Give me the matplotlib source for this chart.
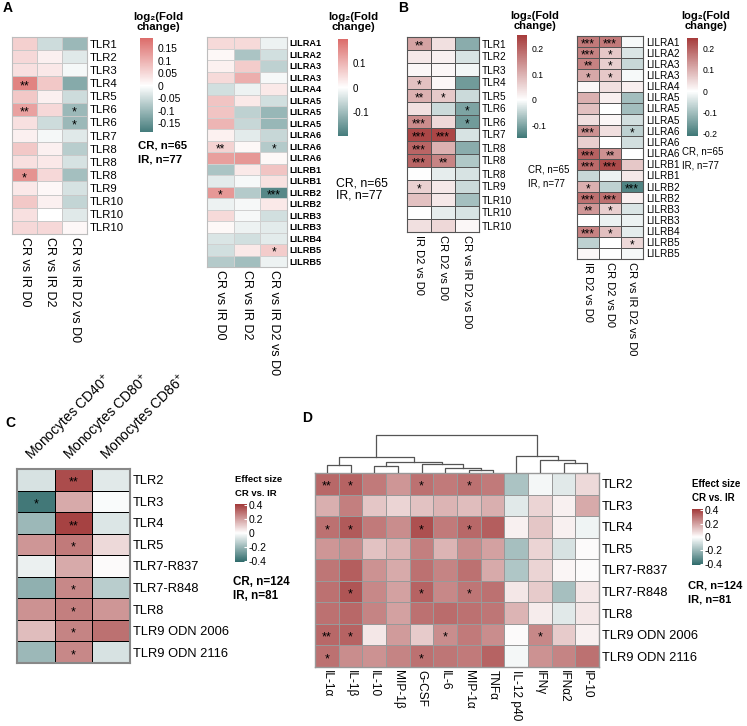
import numpy as np
import matplotlib
matplotlib.use('Agg')
import matplotlib.pyplot as plt
from matplotlib.colors import LinearSegmentedColormap, Normalize
from matplotlib.cm import ScalarMappable

plt.rcParams['font.family'] = ['Liberation Sans', 'DejaVu Sans']
plt.rcParams['mathtext.default'] = 'regular'

W, H = 747, 726

# ---------------- data ----------------
cols_a = ['CR vs IR D0', 'CR vs IR D2', 'CR vs IR D2 vs D0']
cols_b = ['IR D2 vs D0', 'CR D2 vs D0', 'CR vs IR D2 vs D0']

tlr_rows = ['TLR1', 'TLR2', 'TLR3', 'TLR4', 'TLR5', 'TLR6', 'TLR6', 'TLR7',
            'TLR8', 'TLR8', 'TLR8', 'TLR9', 'TLR10', 'TLR10', 'TLR10']
lilr_rows = ['LILRA1', 'LILRA2', 'LILRA3', 'LILRA3', 'LILRA4', 'LILRA5', 'LILRA5',
             'LILRA5', 'LILRA6', 'LILRA6', 'LILRA6', 'LILRB1', 'LILRB1', 'LILRB2',
             'LILRB2', 'LILRB3', 'LILRB3', 'LILRB4', 'LILRB5', 'LILRB5']

a_tlr = [[0.06, -0.05, -0.10], [0.05, 0.02, -0.03], [0.04, 0.03, -0.01],
         [0.16, 0.07, -0.12], [0.07, 0.02, -0.05], [0.12, 0.05, -0.10],
         [0.04, -0.05, -0.10], [0.02, -0.01, -0.03], [0.07, 0.02, -0.07],
         [0.04, 0.03, -0.04], [0.14, 0.05, -0.09], [0.03, 0.01, -0.04],
         [0.07, 0.02, -0.06], [0.04, 0.00, -0.03], [0.05, 0.05, 0.01]]
a_tlr_sig = [(3, 0, '**'), (5, 0, '**'), (5, 2, '*'), (6, 2, '*'), (10, 0, '*')]

a_lilr = [[0.05, 0.05, -0.02], [0.01, -0.09, -0.05], [0.02, 0.07, -0.07],
          [0.05, 0.11, -0.01], [-0.05, -0.02, 0.03], [0.08, 0.03, -0.05],
          [0.08, -0.07, -0.11], [0.10, -0.06, -0.11], [0.02, -0.03, -0.06],
          [0.06, 0.01, -0.08], [0.13, 0.14, 0.01], [-0.09, 0.03, 0.08],
          [-0.03, -0.01, 0.04], [0.14, -0.08, -0.18], [-0.02, -0.01, 0.03],
          [0.05, -0.01, -0.05], [0.01, -0.02, -0.03], [-0.04, -0.05, -0.03],
          [-0.05, 0.03, 0.07], [-0.08, -0.10, -0.02]]
a_lilr_sig = [(9, 0, '**'), (9, 2, '*'), (13, 0, '*'), (13, 2, '***'), (18, 2, '*')]

b_tlr = [[0.12, 0.04, -0.09], [0.03, 0.02, -0.03], [0.01, 0.01, -0.01],
         [0.08, 0.01, -0.11], [0.10, 0.07, -0.04], [0.04, -0.04, -0.10],
         [0.15, 0.05, -0.11], [0.24, 0.24, -0.03], [0.20, 0.10, -0.09],
         [0.20, 0.16, -0.06], [0.00, -0.02, -0.03], [0.06, 0.03, -0.04],
         [0.08, 0.03, -0.07], [0.00, -0.02, -0.03], [0.04, 0.05, 0.01]]
b_tlr_sig = [(0, 0, '**'), (3, 0, '*'), (4, 0, '**'), (4, 1, '*'), (5, 2, '*'),
             (6, 0, '***'), (6, 2, '*'), (7, 0, '***'), (7, 1, '***'), (8, 0, '***'),
             (9, 0, '***'), (9, 1, '**'), (11, 0, '*')]

b_lilr = [[0.17, 0.17, -0.01], [0.16, 0.07, -0.04], [0.16, 0.06, -0.06],
          [0.11, 0.07, -0.01], [0.01, 0.04, 0.02], [0.10, 0.02, -0.10],
          [0.08, 0.00, -0.10], [0.04, 0.01, -0.05], [0.14, 0.04, -0.07],
          [0.06, 0.00, -0.05], [0.20, 0.14, 0.00], [0.19, 0.23, 0.07],
          [-0.06, -0.02, 0.03], [0.10, -0.07, -0.19], [0.18, 0.18, 0.02],
          [0.13, 0.06, -0.04], [0.00, -0.02, -0.02], [0.16, 0.08, -0.03],
          [-0.07, 0.00, 0.05], [0.01, 0.00, -0.01]]
b_lilr_sig = [(0, 0, '***'), (0, 1, '***'), (1, 0, '***'), (1, 1, '*'), (2, 0, '**'),
              (2, 1, '*'), (3, 0, '*'), (3, 1, '*'), (8, 0, '***'), (8, 2, '*'),
              (10, 0, '***'), (10, 1, '**'), (11, 0, '***'), (11, 1, '***'),
              (13, 0, '*'), (13, 2, '***'), (14, 0, '***'), (14, 1, '***'),
              (15, 0, '**'), (15, 1, '*'), (17, 0, '***'), (17, 1, '*'), (18, 2, '*')]

stim_rows = ['TLR2', 'TLR3', 'TLR4', 'TLR5', 'TLR7-R837', 'TLR7-R848', 'TLR8',
             'TLR9 ODN 2006', 'TLR9 ODN 2116']
mono_cols = ['Monocytes CD40$^{+}$', 'Monocytes CD80$^{+}$', 'Monocytes CD86$^{+}$']
c_vals = [[-0.08, 0.38, -0.06], [-0.38, 0.18, -0.01], [-0.20, 0.40, -0.07],
          [0.22, 0.28, 0.08], [-0.04, 0.18, 0.01], [-0.22, 0.25, -0.14],
          [0.23, 0.27, 0.22], [0.14, 0.26, 0.30], [-0.20, 0.25, -0.08]]
c_sig = [(0, 1, '**'), (1, 0, '*'), (2, 1, '**'), (3, 1, '*'), (5, 1, '*'),
         (6, 1, '*'), (7, 1, '*'), (8, 1, '*')]

cyto_cols = ['IL-1α', 'IL-1β', 'IL-10', 'MIP-1β', 'G-CSF', 'IL-6', 'MIP-1α',
             'TNFα', 'IL-12 p40', 'IFNγ', 'IFNα2', 'IP-10']
d_vals = [
    [0.32, 0.33, 0.28, 0.22, 0.30, 0.28, 0.30, 0.28, -0.17, -0.02, -0.06, 0.08],
    [0.17, 0.27, 0.12, 0.09, 0.13, 0.16, 0.14, 0.17, -0.06, 0.09, 0.03, 0.18],
    [0.30, 0.35, 0.28, 0.24, 0.37, 0.28, 0.32, 0.34, 0.03, 0.12, 0.03, -0.03],
    [0.22, 0.24, 0.13, 0.16, 0.27, 0.16, 0.24, 0.20, -0.18, 0.09, -0.08, 0.01],
    [0.29, 0.34, 0.23, 0.18, 0.30, 0.26, 0.30, 0.18, -0.16, 0.09, 0.02, 0.01],
    [0.30, 0.36, 0.25, 0.20, 0.33, 0.25, 0.29, 0.30, 0.05, 0.11, -0.18, 0.05],
    [0.30, 0.32, 0.26, 0.20, 0.30, 0.31, 0.30, 0.29, 0.16, 0.04, -0.06, 0.05],
    [0.32, 0.33, 0.05, 0.21, 0.11, 0.24, 0.28, 0.24, 0.01, 0.25, 0.11, 0.03],
    [0.30, 0.24, 0.23, 0.26, 0.30, 0.29, 0.28, 0.33, -0.02, 0.23, 0.26, 0.30]]
d_sig = [(0, 0, '**'), (0, 1, '*'), (0, 4, '*'), (0, 6, '*'), (2, 0, '*'), (2, 1, '*'),
         (2, 4, '*'), (2, 6, '*'), (5, 1, '*'), (5, 4, '*'), (5, 6, '*'), (7, 0, '**'),
         (7, 1, '*'), (7, 5, '*'), (7, 9, '*'), (8, 0, '*'), (8, 4, '*')]

# column dendrogram of panel D: (left node, right node, height); leaves 0..11
d_merges = [(0, 1, 0.21), (2, 3, 0.18), (6, 7, 0.09), (5, 14, 0.13), (4, 15, 0.24),
            (13, 16, 0.29), (12, 17, 0.42), (10, 11, 0.26), (9, 19, 0.34),
            (8, 20, 0.45), (18, 21, 1.0)]


# ---------------- helpers ----------------
fig = plt.figure(figsize=(W / 100, H / 100), dpi=100)


def px_axes(x0, y0, x1, y1):
    return fig.add_axes([x0 / W, 1 - y1 / H, (x1 - x0) / W, (y1 - y0) / H])


def ftext(x, y, s, **kw):
    fig.text(x / W, 1 - y / H, s, **kw)


def make_cmap(neg, pos, vmin, vmax):
    f = -vmin / (vmax - vmin)
    return LinearSegmentedColormap.from_list('div', [(0, neg), (f, 'white'), (1, pos)])


def heatmap(box, vals, rows, cols, sig, cmap, vmin, vmax, edge, lw, border, blw,
            rsize, rweight, csize, star_size):
    ax = px_axes(*box)
    vals = np.array(vals)
    nr, nc = vals.shape
    ax.pcolormesh(np.arange(nc + 1), np.arange(nr + 1), vals, cmap=cmap,
                  norm=Normalize(vmin, vmax), edgecolors=edge, linewidth=lw)
    ax.set_xlim(0, nc)
    ax.set_ylim(nr, 0)
    ax.yaxis.tick_right()
    ax.set_yticks(np.arange(nr) + 0.5)
    ax.set_yticklabels(rows, fontsize=rsize, fontweight=rweight)
    ax.set_xticks(np.arange(nc) + 0.5)
    ax.set_xticklabels(cols, rotation=270, fontsize=csize, va='top', ha='center')
    ax.tick_params(length=0, pad=2)
    for s in ax.spines.values():
        s.set_color(border)
        s.set_linewidth(blw)
    for r, c, t in sig:
        ax.annotate(t, (c + 0.5, r + 0.5), xytext=(0, -2.2), textcoords='offset points',
                    ha='center', va='center', fontsize=star_size, color='black')
    return ax


def colorbar(box, cmap, vmin, vmax, ticks, size, white_ticks=False):
    cax = px_axes(*box)
    sm = ScalarMappable(norm=Normalize(vmin, vmax), cmap=cmap)
    cb = fig.colorbar(sm, cax=cax, ticks=ticks)
    cb.outline.set_visible(False)
    cb.ax.set_yticklabels([f'{t:g}' for t in ticks], fontsize=size)
    if white_ticks:
        cb.ax.tick_params(length=2, width=0.8, color='white', direction='in', pad=1)
    else:
        cb.ax.tick_params(length=0, pad=3)
    return cb


# ---------------- panel A ----------------
cm_a = make_cmap('#457c7c', '#dc6c6a', -0.185, 0.19)
heatmap((12, 37, 87, 234), a_tlr, tlr_rows, cols_a, a_tlr_sig, cm_a, -0.185, 0.19,
        '#c9c9c9', 0.5, '#bdbdbd', 0.8, 8.2, 'normal', 9, 9)
colorbar((140, 38, 153, 132), cm_a, -0.185, 0.19,
         [0.15, 0.1, 0.05, 0, -0.05, -0.1, -0.15], 7.4)
ftext(158, 22, 'log₂(Fold\nchange)', fontsize=8.2, fontweight='bold', ha='center',
      va='center', linespacing=1.1)
ftext(138, 146, 'CR, n=65', fontsize=8.2, fontweight='bold', va='center')
ftext(138, 159, 'IR, n=77', fontsize=8.2, fontweight='bold', va='center')

cm_a2 = make_cmap('#457c7c', '#dc6c6a', -0.2, 0.2)
heatmap((207, 37, 287, 267), a_lilr, lilr_rows, cols_a, a_lilr_sig, cm_a2, -0.2, 0.2,
        '#d0d0d0', 0.5, '#bdbdbd', 0.8, 6.6, 'bold', 9, 8.5)
colorbar((338, 39, 348, 136), cm_a2, -0.2, 0.2, [0.1, 0, -0.1], 7)
ftext(353, 22, 'log₂(Fold\nchange)', fontsize=8.2, fontweight='bold', ha='center',
      va='center', linespacing=1.1)
ftext(336, 183, 'CR, n=65', fontsize=8.8, va='center')
ftext(336, 196, 'IR, n=77', fontsize=8.8, va='center')

# ---------------- panel B ----------------
cm_b = make_cmap('#3e7776', '#a63b3b', -0.15, 0.255)
heatmap((407, 37, 479, 232), b_tlr, tlr_rows, cols_b, b_tlr_sig, cm_b, -0.15, 0.255,
        '#555555', 0.6, '#555555', 0.8, 7.2, 'normal', 8, 8.5)
colorbar((517, 35, 527, 138), cm_b, -0.15, 0.255, [0.2, 0.1, 0, -0.1], 6.2)
ftext(535, 21, 'log₂(Fold\nchange)', fontsize=8, fontweight='bold', ha='center',
      va='center', linespacing=1.1)
ftext(528, 170, 'CR, n=65', fontsize=7, va='center')
ftext(528, 183, 'IR, n=77', fontsize=7, va='center')

cm_b2 = make_cmap('#3e7776', '#a63b3b', -0.21, 0.25)
heatmap((577, 36, 643, 259), b_lilr, lilr_rows, cols_b, b_lilr_sig, cm_b2, -0.21, 0.25,
        '#555555', 0.6, '#555555', 0.8, 7.2, 'normal', 8, 8.5)
colorbar((687, 38, 698, 136), cm_b2, -0.21, 0.25, [0.2, 0.1, 0, -0.1, -0.2], 6.2)
ftext(706, 21, 'log₂(Fold\nchange)', fontsize=8, fontweight='bold', ha='center',
      va='center', linespacing=1.1)
ftext(682, 152, 'CR, n=65', fontsize=7, va='center')
ftext(682, 165, 'IR, n=77', fontsize=7, va='center')

# ---------------- panel C ----------------
cm_c = make_cmap('#2e6a6a', '#a23939', -0.42, 0.42)
ax_c = heatmap((17, 469, 130, 663), c_vals, stim_rows, mono_cols, c_sig, cm_c,
               -0.42, 0.42, 'black', 0.7, '#888888', 1.5, 9.3, 'normal', 9.3, 9)
ax_c.xaxis.tick_top()
ax_c.set_xticklabels(mono_cols, rotation=45, ha='left', va='bottom',
                     rotation_mode='anchor', fontsize=10)
ax_c.tick_params(axis='x', pad=3)
colorbar((235, 504, 247, 562), cm_c, -0.42, 0.42, [0.4, 0.2, 0, -0.2, -0.4], 7.5,
         white_ticks=True)
ftext(235, 480, 'Effect size', fontsize=6.8, fontweight='bold', va='center')
ftext(235, 494, 'CR vs. IR', fontsize=6.8, fontweight='bold', va='center')
ftext(233, 582, 'CR, n=124', fontsize=8.4, fontweight='bold', va='center')
ftext(233, 596, 'IR, n=81', fontsize=8.4, fontweight='bold', va='center')

# ---------------- panel D ----------------
heatmap((315, 473, 599, 667), d_vals, stim_rows, cyto_cols, d_sig, cm_c,
        -0.42, 0.42, '#999999', 0.7, '#999999', 1.0, 9.3, 'normal', 8.6, 9)
colorbar((692, 509, 703, 565), cm_c, -0.42, 0.42, [0.4, 0.2, 0, -0.2, -0.4], 7.5,
         white_ticks=True)
ftext(692, 484, 'Effect size', fontsize=7, fontweight='bold', va='center')
ftext(692, 498, 'CR vs. IR', fontsize=7, fontweight='bold', va='center')
ftext(688, 586, 'CR, n=124', fontsize=8, fontweight='bold', va='center')
ftext(688, 599, 'IR, n=81', fontsize=8, fontweight='bold', va='center')

# dendrogram above D
ax_dn = px_axes(315, 432, 599, 473)
pos = {i: (i + 0.5, 0.0) for i in range(len(cyto_cols))}
for k, (l, r, h) in enumerate(d_merges):
    xl, hl = pos[l]
    xr, hr = pos[r]
    ax_dn.plot([xl, xl, xr, xr], [hl, h, h, hr], color='#555555', lw=0.9)
    pos[len(cyto_cols) + k] = ((xl + xr) / 2, h)
ax_dn.set_xlim(0, len(cyto_cols))
ax_dn.set_ylim(0, 1.07)
ax_dn.axis('off')

# panel letters
for x, y, s in [(3, 8, 'A'), (398, 8, 'B'), (5, 423, 'C'), (302, 418, 'D')]:
    ftext(x, y, s, fontsize=10, fontweight='bold', va='center')

fig.savefig('out.png', dpi=100)
